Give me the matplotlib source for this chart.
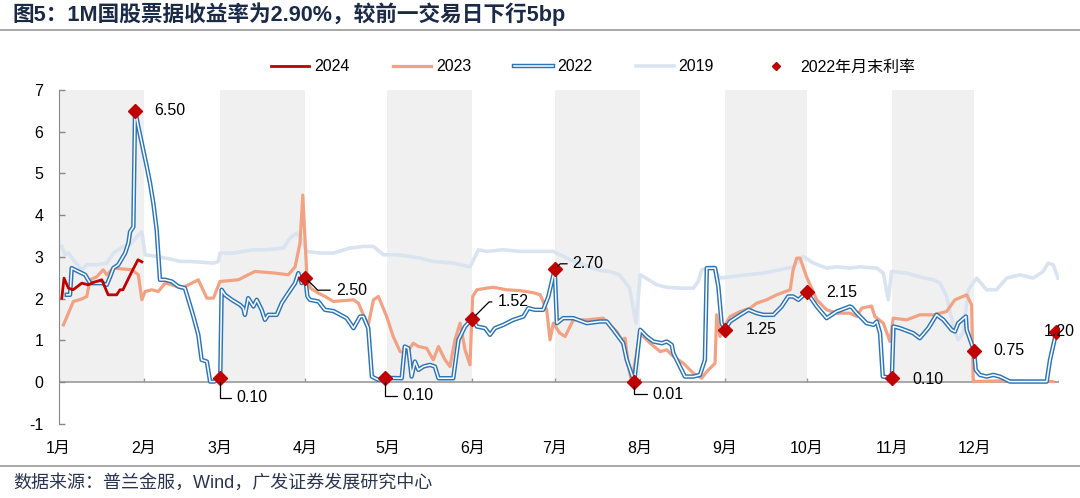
import numpy as np
import pandas as pd
import matplotlib
matplotlib.use('Agg')
from matplotlib import pyplot as plt
import matplotlib.patheffects as pe

plt.rcParams['font.family'] = ['Liberation Sans', 'Noto Sans CJK SC']
plt.rcParams['axes.unicode_minus'] = False

# x = day of year (1 = Jan 1)
days_2024 = [1.2, 2.0, 3.6, 5.3, 8.5, 10.8, 13.3, 15.8, 18.1, 21.2, 22.4, 23.5, 24.9, 26.7, 29.0, 30.4]
rate_2024 = [2.01, 2.49, 2.25, 2.21, 2.37, 2.33, 2.40, 2.45, 2.09, 2.09, 2.21, 2.21, 2.40, 2.64, 2.93, 2.88]

days_2023 = [1.8, 3.6, 5.4, 8.5, 10.3, 11.5, 13.9, 16.3, 17.6, 20.0, 26.7, 29.1, 30.4, 31.6, 34.0,
             36.4, 38.9, 41.3, 44.9, 47.4, 51.0, 54.1, 56.5, 58.9, 65.6, 69.2, 71.7, 79.0, 83.8,
             86.3, 88.1, 89.1, 90.6, 91.9, 94.8, 97.2, 100.3, 107.6, 109.4, 111.2, 113.0, 114.9,
             116.7, 119.7, 122.1, 124.6, 127.0, 129.4, 131.3, 134.3, 136.7, 138.6, 141.0, 142.8,
             144.6, 146.5, 148.3, 150.1, 151.1, 152.6, 156.2, 158.6, 163.5, 168.4, 173.2, 175.7,
             178.1, 179.3, 180.5, 182.9, 184.8, 187.8, 192.7, 198.7, 203.6, 205.5, 206.7, 207.9,
             209.1, 212.2, 215.8, 219.5, 221.9, 224.3, 227.9, 231.6, 234.6, 236.5, 239.5, 240.1,
             241.3, 243.2, 245.0, 248.7, 252.3, 254.7, 258.3, 262.0, 266.9, 268.0, 269.3, 270.5,
             272.9, 276.6, 280.2, 283.9, 288.7, 291.2, 293.0, 296.6, 297.8, 300.9, 303.3, 304.5,
             309.4, 314.2, 319.1, 324.0, 327.0, 331.3, 333.1, 333.7, 345.0, 362.7]
rate_2023 = [1.37, 1.65, 1.93, 1.99, 2.05, 2.45, 2.52, 2.69, 2.57, 2.73, 2.69, 2.57, 1.97, 2.17, 2.21,
             2.17, 2.37, 2.33, 2.25, 2.33, 2.45, 2.01, 2.01, 2.41, 2.45, 2.57, 2.65, 2.61, 2.57,
             2.76, 3.33, 4.48, 2.55, 2.25, 2.13, 2.05, 1.93, 1.97, 1.89, 1.61, 1.37, 1.97,
             2.05, 1.57, 1.09, 0.73, 0.69, 0.93, 0.85, 0.81, 0.53, 0.85, 0.53, 0.37,
             1.01, 1.41, 0.77, 0.41, 2.05, 2.21, 2.25, 2.27, 2.21, 2.19, 2.14, 2.09,
             1.73, 1.01, 1.41, 1.17, 1.09, 1.49, 1.49, 1.53, 1.21, 1.01, 1.05, 0.37,
             0.01, 1.17, 0.93, 0.73, 0.77, 0.61, 0.45, 0.21, 0.09, 0.25, 0.45, 1.61,
             1.09, 1.37, 1.57, 1.69, 1.77, 1.89, 1.97, 2.09, 2.21, 2.69, 2.97, 2.97,
             2.52, 1.97, 1.73, 1.65, 1.65, 1.57, 1.77, 1.82, 1.57, 1.41, 0.97, 1.53,
             1.49, 1.61, 1.61, 1.69, 1.97, 2.09, 1.85, 0.01, 0.03, 0.01]

days_2022 = [3.0, 4.2, 4.8, 7.2, 9.7, 11.5, 15.8, 17.6, 18.8, 20.0, 21.8, 24.3, 25.5, 26.1, 27.3,
             27.9, 28.0, 29.1, 30.4, 32.2, 33.4, 34.6, 35.8, 37.0, 38.9, 41.3, 43.7, 46.1, 47.4,
             49.2, 51.0, 52.2, 54.1, 55.3, 56.8, 59.0, 59.5, 60.7, 63.2, 66.2, 67.4, 68.0, 69.2,
             71.1, 72.3, 74.1, 75.3, 76.5, 79.6, 81.4, 83.8, 86.3, 87.5, 88.7, 90.0, 90.8, 91.7,
             94.8, 97.2, 100.3, 105.1, 107.6, 110.0, 111.2, 113.0, 114.3, 116.7, 119.0, 125.2,
             126.3, 127.6, 128.8, 130.0, 131.3, 133.1, 135.5, 137.3, 138.6, 144.0, 145.9, 148.3,
             151.0, 152.6, 155.6, 157.4, 159.2, 162.3, 165.9, 169.6, 171.4, 173.8, 176.8, 178.7,
             181.0, 181.8, 184.1, 187.8, 192.7, 197.5, 200.0, 202.4, 206.0, 207.3, 210.0, 212.2,
             214.6, 217.0, 220.1, 221.9, 223.7, 224.3, 226.7, 228.5, 231.6, 234.0, 235.8, 236.5,
             239.5, 240.7, 241.9, 243.0, 245.0, 248.7, 251.7, 254.7, 257.1, 260.8, 263.8, 266.2,
             268.0, 269.9, 273.0, 276.6, 280.2, 283.9, 288.7, 289.4, 291.2, 294.8, 297.3, 298.5,
             299.7, 300.7, 304.0, 304.6, 307.0, 311.8, 314.2, 317.3, 320.3, 322.8, 325.8, 327.0,
             328.2, 331.0, 331.3, 334.0, 334.6, 336.1, 338.6, 341.0, 343.4, 347.1, 360.5, 361.7,
             364.0]
rate_2022 = [2.09, 2.09, 2.73, 2.65, 2.57, 2.37, 2.37, 2.33, 2.52, 2.73, 2.81, 3.09, 3.33, 3.60, 3.72,
             6.44, 6.50, 6.12, 5.72, 5.16, 4.76, 4.28, 3.65, 2.45, 2.45, 2.41, 2.29, 2.25, 1.97,
             1.57, 1.13, 0.53, 0.49, 0.01, 0.01, 0.10, 2.21, 2.09, 1.97, 1.85, 1.77, 1.61, 2.01,
             1.81, 1.97, 1.73, 1.49, 1.61, 1.61, 1.89, 2.13, 2.37, 2.61, 2.37, 2.50, 2.05, 1.97,
             1.93, 1.73, 1.70, 1.53, 1.29, 1.57, 1.57, 1.29, 0.13, 0.05, 0.10, 0.09,
             0.85, 0.81, 0.13, 0.49, 0.29, 0.37, 0.41, 0.37, 0.09, 0.09, 1.01, 1.33,
             1.52, 1.33, 1.29, 1.13, 1.29, 1.37, 1.49, 1.57, 1.77, 1.73, 1.73, 2.05,
             2.70, 1.41, 1.53, 1.53, 1.41, 1.45, 1.45, 1.25, 0.93, 0.53, 0.01, 1.25,
             1.09, 0.97, 0.93, 0.97, 0.89, 0.69, 0.37, 0.13, 0.13, 0.17, 0.53, 2.73,
             2.73, 2.29, 1.41, 1.25, 1.45, 1.61, 1.73, 1.65, 1.61, 1.61, 1.81, 2.05,
             2.05, 1.97, 2.15, 1.81, 1.53, 1.69, 1.81, 1.79, 1.65, 1.41, 1.37, 1.45,
             1.17, 0.13, 0.10, 1.33, 1.29, 1.17, 1.05, 1.29, 1.61, 1.49, 1.25, 1.21,
             1.41, 1.57, 1.25, 0.75, 0.29, 0.17, 0.13, 0.17, 0.13, 0.01, 0.01, 0.53,
             1.20]

days_2019 = [1.2, 2.4, 3.6, 5.4, 8.5, 10.3, 13.9, 17.6, 20.0, 23.6, 26.1, 28.5, 30.4, 31.6, 35.8,
             41.9, 44.3, 48.0, 56.5, 58.3, 58.9, 63.8, 71.1, 76.0, 82.0, 84.5, 86.9, 88.7, 90.6,
             95.4, 100.3, 106.3, 111.2, 114.9, 118.5, 123.4, 128.2, 131.9, 136.7, 144.0, 150.1,
             153.2, 156.2, 162.3, 168.4, 180.5, 182.9, 186.6, 191.5, 197.5, 201.0, 204.6, 208.3,
             210.7, 212.2, 215.3, 218.2, 221.9, 226.7, 231.6, 233.4, 234.6, 238.9, 241.3, 245.0,
             251.1, 257.1, 263.2, 268.0, 271.7, 275.4, 280.2, 283.9, 288.7, 292.4, 298.5, 300.9,
             302.7, 303.9, 309.4, 314.2, 319.1, 321.6, 324.0, 326.4, 328.2, 330.0, 331.9, 334.9,
             338.6, 342.2, 345.9, 350.7, 355.6, 359.2, 361.0, 362.9, 364.6]
rate_2019 = [3.25, 3.05, 3.09, 2.93, 2.69, 2.81, 2.81, 2.85, 3.09, 3.25, 3.29, 3.48, 3.60, 3.05, 3.01,
             2.93, 2.89, 2.89, 2.85, 2.89, 3.09, 3.09, 3.17, 3.17, 3.21, 3.45, 3.57, 3.41, 3.13,
             3.09, 3.09, 3.21, 3.25, 3.25, 3.05, 3.05, 3.01, 2.97, 2.89, 2.85, 2.76,
             3.17, 3.13, 3.17, 3.13, 3.13, 3.05, 2.93, 2.81, 2.67, 2.65, 2.57, 2.25,
             1.41, 2.57, 2.45, 2.33, 2.27, 2.25, 2.25, 2.41, 2.69, 2.76, 2.49, 2.52,
             2.57, 2.61, 2.69, 2.76, 3.01, 2.85, 2.73, 2.76, 2.73, 2.76, 2.73, 2.61,
             1.97, 2.65, 2.61, 2.52, 2.45, 2.37, 2.05, 1.33, 1.01, 1.17, 2.21, 2.49,
             2.21, 2.21, 2.49, 2.57, 2.49, 2.65, 2.85, 2.81, 2.49]

# 2022 month-end rates
month_end_dates = ['2022-01-28', '2022-02-28', '2022-03-31', '2022-04-29', '2022-05-31', '2022-06-30',
                   '2022-07-29', '2022-08-31', '2022-09-30', '2022-10-31', '2022-11-30', '2022-12-30']
month_end_rates = [6.50, 0.10, 2.50, 0.10, 1.52, 2.70, 0.01, 1.25, 2.15, 0.10, 0.75, 1.20]

month_labels = [f'{m}月' for m in range(1, 13)]

month_end_days = pd.to_datetime(month_end_dates).dayofyear.values
month_edges = np.concatenate([[0], pd.date_range('2022-02-01', '2023-01-01', freq='MS').dayofyear.values - 1])
month_edges[-1] = 365

fig = plt.figure(figsize=(10.8, 4.98), dpi=100)
ax = fig.add_axes([0.0542, 0.1492, 0.9264, 0.6701])

# shaded odd months
for i in range(0, 12, 2):
    ax.axvspan(month_edges[i], month_edges[i + 1], ymin=1 / 8, ymax=1, color='#F0F0F0', lw=0, zorder=0)

l19, = ax.plot(days_2019, rate_2019, color='#DAE4F1', lw=2.6, label='2019', zorder=2)
l23, = ax.plot(days_2023, rate_2023, color='#F2A283', lw=2.3, label='2023', zorder=3)
l22, = ax.plot(days_2022, rate_2022, color='white', lw=1.1, label='2022', zorder=4,
               path_effects=[pe.Stroke(linewidth=3.2, foreground='#2E75B6'), pe.Normal()])
l24, = ax.plot(days_2024, rate_2024, color='#C00000', lw=2.0, label='2024', zorder=5)
mk, = ax.plot(month_end_days, month_end_rates, ls='none', marker='D', ms=7.3, color='#C00000',
              label='2022年月末利率', zorder=6)

# label offsets (points) and leader kind
label_offsets = [(14, 0, None), (11.5, -14.5, 'L'), (22, -9, 'd'), (13, -13, 'L'),
                 (18, 12, 'u'), (13, 4, 'u'), (13, -9, 'L'), (15, 0, None),
                 (14, 0, None), (15, -1, None), (14, 0, None), (-9, 0, None)]
for d, v, (dx, dy, kind) in zip(month_end_days, month_end_rates, label_offsets):
    if kind is None:
        arrow = None
    elif kind == 'L':
        arrow = dict(arrowstyle='-', color='black', lw=0.9, shrinkA=2, shrinkB=3, relpos=(0, 0.5),
                     connectionstyle='angle,angleA=0,angleB=90,rad=0')
    else:
        angle = -45 if kind == 'd' else 45
        arrow = dict(arrowstyle='-', color='black', lw=0.9, shrinkA=2, shrinkB=3, relpos=(0, 0.5),
                     connectionstyle=f'angle,angleA=0,angleB={angle},rad=0')
    ax.annotate(f'{v:.2f}', xy=(d, v), xytext=(dx, dy), textcoords='offset points',
                ha='left', va='center', fontsize=11.5, color='black', arrowprops=arrow, zorder=7)

ax.set_xlim(0, 365)
ax.set_ylim(-1, 7)
ax.set_yticks(range(-1, 8))
ax.set_xticks(month_edges[:-1])
ax.set_xticklabels(month_labels)
ax.tick_params(axis='x', length=0, pad=12.5, labelsize=11.5)
ax.tick_params(axis='y', direction='in', length=4, width=1, color='#888888', pad=11, labelsize=11.5)
for s in ['top', 'right', 'bottom']:
    ax.spines[s].set_visible(False)
ax.spines['left'].set_color('#888888')
ax.axhline(0, color='#999999', lw=1.2, zorder=1)
ax.vlines(month_edges, 0, 0.1, color='#999999', lw=1, zorder=1)

ax.legend(handles=[l24, l23, l22, l19, mk], loc='center left', bbox_to_anchor=(0.251, 0.8655),
          bbox_transform=fig.transFigure, ncol=5, frameon=False, fontsize=11.5, handlelength=2.4,
          handletextpad=0.3, columnspacing=2.7, borderpad=0, borderaxespad=0, markerscale=0.55)

fig.text(0.012, 0.972, '图5：1M国股票据收益率为2.90%，较前一交易日下行5bp', fontsize=15.6,
         fontweight='bold', color='#1B2A47', ha='left', va='center')
fig.add_artist(plt.Line2D([0, 1], [0.94, 0.94], color='#999999', lw=1.2, transform=fig.transFigure))
fig.add_artist(plt.Line2D([0, 1], [0.064, 0.064], color='#999999', lw=1.2, transform=fig.transFigure))
fig.text(0.012, 0.03, '数据来源：普兰金服，Wind，广发证券发展研究中心', fontsize=13,
         color='#2A3550', ha='left', va='center')

fig.savefig('out.png', dpi=100)
